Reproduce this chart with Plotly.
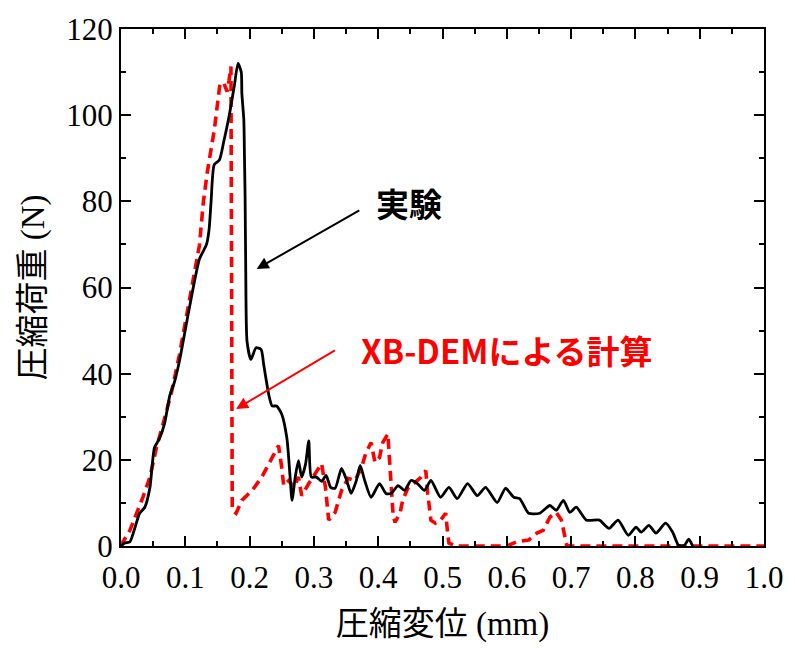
import plotly.graph_objects as go

# Experiment (black solid)
exp_x = [0.0, 0.006, 0.014, 0.022, 0.029, 0.037, 0.045, 0.052, 0.060, 0.068, 0.076, 0.083,
         0.091, 0.106, 0.122, 0.133, 0.137, 0.140, 0.145, 0.153, 0.160, 0.168, 0.176, 0.182,
         0.187, 0.188, 0.191, 0.192, 0.193, 0.194, 0.196, 0.202, 0.210, 0.218, 0.222, 0.230,
         0.235, 0.242, 0.250, 0.258, 0.263, 0.266, 0.271, 0.276, 0.281, 0.287, 0.292, 0.296,
         0.304, 0.312, 0.319, 0.326, 0.333, 0.343, 0.351, 0.358, 0.366, 0.372, 0.379, 0.389,
         0.402, 0.412, 0.420, 0.431, 0.441, 0.451, 0.461, 0.472, 0.482, 0.497, 0.510, 0.523,
         0.539, 0.554, 0.567, 0.585, 0.598, 0.611, 0.620, 0.634, 0.651, 0.667, 0.677, 0.688,
         0.698, 0.708, 0.724, 0.744, 0.759, 0.773, 0.789, 0.801, 0.809, 0.821, 0.832, 0.847,
         0.858, 0.867, 0.876, 0.883, 0.889]
exp_y = [0.0, 0.7, 1.0, 4.4, 7.6, 9.0, 13.6, 22.8, 25.0, 28.6, 35.0, 38.0,
         43.0, 55.0, 66.6, 70.0, 73.5, 79.7, 88.5, 89.6, 94.0, 99.7, 106.6, 112.0,
         110.0, 105.0, 99.0, 90.5, 81.0, 64.3, 47.5, 43.3, 46.0, 45.6, 42.0, 35.0,
         32.5, 32.5, 30.6, 25.0, 16.0, 10.6, 16.0, 19.8, 16.0, 19.0, 24.4, 16.0,
         16.0, 15.0, 16.4, 13.6, 13.4, 18.0, 15.2, 12.2, 15.2, 18.7, 15.2, 11.3,
         14.5, 12.2, 12.2, 14.0, 12.9, 15.2, 14.5, 12.9, 15.2, 11.3, 13.6, 11.0,
         14.5, 11.7, 13.6, 10.1, 13.4, 11.3, 11.0, 7.6, 7.6, 9.4, 8.3, 10.6,
         7.8, 9.0, 6.0, 6.0, 4.1, 6.0, 2.5, 4.4, 3.2, 4.8, 3.0, 5.3,
         3.2, 0.2, 0.1, 1.6, 0.0]

# XB-DEM calculation (red dashed)
dem_x = [0.0, 0.002, 0.014, 0.022, 0.034, 0.045, 0.055, 0.068, 0.079, 0.091, 0.103, 0.111,
         0.122, 0.128, 0.134, 0.145, 0.151, 0.154, 0.160, 0.165, 0.168, 0.171, 0.172, 0.173,
         0.179, 0.188, 0.204, 0.219, 0.235, 0.245, 0.250, 0.253, 0.261, 0.269, 0.276, 0.281,
         0.292, 0.302, 0.312, 0.318, 0.323, 0.333, 0.343, 0.353, 0.364, 0.374, 0.381, 0.389,
         0.395, 0.402, 0.407, 0.415, 0.418, 0.420, 0.423, 0.426, 0.434, 0.438, 0.446, 0.457,
         0.466, 0.474, 0.477, 0.482, 0.489, 0.497, 0.505, 0.508, 0.510, 0.520, 0.600, 0.616,
         0.634, 0.647, 0.657, 0.667, 0.677, 0.685, 0.690, 0.693, 0.700, 1.0]
dem_y = [0.0, 0.7, 3.7, 6.7, 11.3, 16.0, 22.8, 29.7, 36.0, 44.5, 54.4, 60.6,
         69.8, 79.7, 86.6, 96.5, 104.4, 107.4, 107.4, 105.5, 108.0, 111.3, 60.0, 8.3,
         7.6, 10.6, 12.9, 16.0, 20.5, 23.3, 18.2, 14.0, 15.2, 13.6, 16.0, 11.7,
         14.5, 16.8, 19.1, 13.6, 6.0, 7.8, 12.9, 15.7, 15.2, 18.2, 21.7, 24.0,
         19.4, 20.5, 24.0, 26.0, 19.1, 12.9, 7.6, 5.5, 7.6, 10.6, 13.4, 14.7,
         15.9, 17.5, 12.2, 6.0, 5.3, 6.0, 7.6, 3.0, 0.7, 0.0, 0.0, 1.0,
         1.4, 3.0, 3.7, 6.7, 7.8, 6.0, 2.0, 0.2, 0.0, 0.0]

x_ticks = [0.0, 0.1, 0.2, 0.3, 0.4, 0.5, 0.6, 0.7, 0.8, 0.9, 1.0]
x_tick_labels = ["0.0", "0.1", "0.2", "0.3", "0.4", "0.5", "0.6", "0.7", "0.8", "0.9", "1.0"]
y_ticks = [0, 20, 40, 60, 80, 100, 120]

serif = "Liberation Serif, Noto Sans CJK JP"
cjk = "Noto Sans CJK JP"

fig = go.Figure()
fig.add_trace(go.Scatter(x=dem_x, y=dem_y, mode="lines",
                         line=dict(color="#ff0000", width=3.6, dash="10px,6px"),
                         showlegend=False))
fig.add_trace(go.Scatter(x=exp_x, y=exp_y, mode="lines",
                         line=dict(color="black", width=2.8, shape="spline", smoothing=0.6),
                         showlegend=False))

axis_common = dict(showline=True, linecolor="black", linewidth=2, mirror="allticks",
                   ticks="inside", ticklen=10, tickwidth=1.5, tickcolor="black",
                   showgrid=False, zeroline=False,
                   tickfont=dict(family=serif, size=31, color="black"))

fig.update_xaxes(range=[0, 1.0], tickvals=x_ticks, ticktext=x_tick_labels, ticklabelstandoff=3,
                 minor=dict(dtick=0.05, ticklen=5, tickwidth=1.5, ticks="inside", tickcolor="black", showgrid=False),
                 title=dict(text="圧縮変位 (mm)", font=dict(family=serif, size=33, color="black"), standoff=18),
                 **axis_common)
fig.update_yaxes(range=[0, 120], tickvals=y_ticks,
                 minor=dict(dtick=10, ticklen=5, tickwidth=1.5, ticks="inside", tickcolor="black", showgrid=False),
                 title=dict(text="圧縮荷重 (N)", font=dict(family=serif, size=33, color="black"), standoff=12),
                 **axis_common)

fig.add_annotation(x=0.211, y=64.3, ax=0.373, ay=78.1, xref="x", yref="y", axref="x", ayref="y",
                   text="", showarrow=True, arrowhead=2, arrowsize=1.2, arrowwidth=2, arrowcolor="black")
fig.add_annotation(x=0.448, y=79.5, xref="x", yref="y", text="<b>実験</b>", showarrow=False,
                   font=dict(family=cjk, size=33, color="black"))
fig.add_annotation(x=0.179, y=31.8, ax=0.335, ay=45.6, xref="x", yref="y", axref="x", ayref="y",
                   text="", showarrow=True, arrowhead=2, arrowsize=1.2, arrowwidth=2, arrowcolor="#ff0000")
fig.add_annotation(x=0.600, y=45.6, xref="x", yref="y", text="<b>XB-DEMによる計算</b>", showarrow=False,
                   font=dict(family=cjk, size=33, color="#ff0000"))

fig.update_layout(width=795, height=651, margin=dict(l=121, r=26, t=25, b=105),
                  plot_bgcolor="white", paper_bgcolor="white")

fig.write_html("out.html")
